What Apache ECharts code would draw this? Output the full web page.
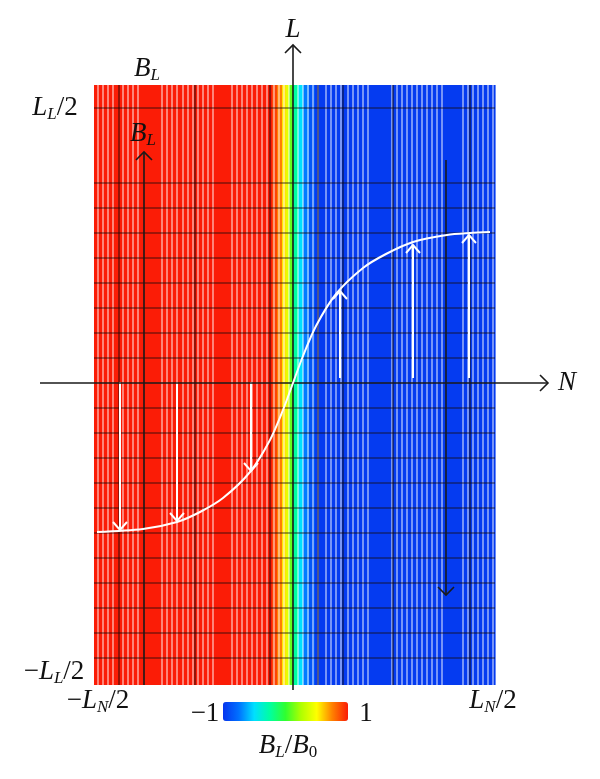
<!DOCTYPE html>
<html><head><meta charset="utf-8">
<script src="https://cdn.jsdelivr.net/npm/echarts@6/dist/echarts.min.js"></script>
<style>html,body{margin:0;padding:0;background:#fff}#c{width:600px;height:779px}</style>
</head><body><div id="c"></div>
<script>
// ---- axis extents (data units) ----
const X_MIN = -199, X_MAX = 202, Y_MIN = -302, Y_MAX = 298;

// ---- field B_L/B0 per column strip ----
const fieldEdges  = [-199, -21, -16, -11, -7, -4, 0, 5, 10, 16, 22, 202];
const fieldValues = [1, 0.9, 0.75, 0.55, 0.42, 0.1, -0.25, -0.5, -0.72, -0.86, -0.97];

// ---- mesh lines (white) ----
const meshX = [-195, -190, -185, -180, -170, -165, -160, -155, -131, -126, -121, -116, -110, -105, -100, -95, -90, -85, -80,
  -61, -56, -51, -46, -41, -36, -31, -26, -19, -14, -9, -4, 5, 10, 15, 20, 25, 33, 38, 43, 48, 55, 60, 65, 70, 75,
  99, 104, 109, 114, 119, 124, 129, 134, 139, 144, 149, 170, 175, 180, 185, 190, 195, 200];

// ---- black grid lines ----
const gridX = [-174, -98, -23, 25, 50, 100, 177];
const gridY = [275, 200, 175, 150, 125, 100, 75, 50, 25, -25, -50, -75, -100, -125, -150, -175, -200, -225, -250, -275];

// ---- white curve ----
const curveX = [-196, -150, -116, -93, -70, -43, -23, -10, 0, 10, 23, 43, 70, 93, 120, 154, 177, 197];
const curveY = [-149, -146, -139, -129, -115, -89, -57, -27, 0, 27, 57, 89, 115, 129, 141, 148, 150, 151];

// ---- white arrows ----
const arrowX    = [-173, -116, -42, 47, 120, 176];
const arrowFrom = [1, 1, 1, 5, 5, 5];
const arrowTo   = [-147, -138, -88, 92, 138, 148];

// ---- black axes with arrow heads ----
const axisStart = [[-253, 0], [0, -307], [-149, -302], [153, 223]];
const axisEnd   = [[255, 0], [0, 338], [-149, 231], [153, -212]];
const axisHead  = [1, 1, 1, 1];

const fieldData = fieldValues.map((v, i) => [fieldEdges[i], fieldEdges[i + 1], v]);
const curveData = curveX.map((x, i) => [x, curveY[i]]);
const arrowData = arrowX.map((x, i) => [x, arrowFrom[i], arrowTo[i]]);
const axisData = axisStart.map((s, i) => [s[0], s[1], axisEnd[i][0], axisEnd[i][1], axisHead[i]]);

function head(tip, from, len, hw) {
  const dx = tip[0] - from[0], dy = tip[1] - from[1];
  const L = Math.sqrt(dx * dx + dy * dy) || 1;
  const ux = dx / L, uy = dy / L, nx = -uy, ny = ux;
  return [[tip[0] - ux * len + nx * hw, tip[1] - uy * len + ny * hw], tip,
          [tip[0] - ux * len - nx * hw, tip[1] - uy * len - ny * hw]];
}

const SERIF = 'Liberation Serif';
const rich = {
  i: {fontFamily: SERIF, fontStyle: 'italic', fontSize: 27, lineHeight: 30, verticalAlign: 'middle', fill: '#111'},
  n: {fontFamily: SERIF, fontSize: 27, lineHeight: 30, verticalAlign: 'middle', fill: '#111'},
  s: {fontFamily: SERIF, fontStyle: 'italic', fontSize: 17, lineHeight: 15, verticalAlign: 'bottom', fill: '#111'},
  sn: {fontFamily: SERIF, fontSize: 17, lineHeight: 15, verticalAlign: 'bottom', fill: '#111'}
};
function label(text, x, y) {
  return {type: 'text', z: 100, style: {text: text, x: x, y: y, rich: rich, align: 'center', verticalAlign: 'middle', textAlign: 'center', textVerticalAlign: 'middle'}};
}

const chart = echarts.init(document.getElementById('c'), null, {renderer: 'canvas'});
chart.setOption({
  animation: false,
  backgroundColor: '#fff',
  grid: {left: 94, top: 85, width: 401, height: 600},
  xAxis: {type: 'value', min: X_MIN, max: X_MAX, show: false},
  yAxis: {type: 'value', min: Y_MIN, max: Y_MAX, show: false},
  visualMap: {
    type: 'continuous', min: -1, max: 1, dimension: 2, seriesIndex: 0,
    orient: 'horizontal', left: 223, top: 702, itemWidth: 19, itemHeight: 125,
    calculable: false, padding: 0, text: null, hoverLink: false,
    inRange: {color: ['#0634ee', '#0070ff', '#00e0ff', '#00ffa0', '#30ff30', '#b0ff00', '#ffff00', '#ff8000', '#fb1c06']}
  },
  series: [
    { type: 'custom', data: fieldData, encode: {x: [0, 1]}, silent: true,
      renderItem: function (p, api) {
        const a = api.coord([api.value(0), Y_MAX]);
        const b = api.coord([api.value(1), Y_MIN]);
        return {type: 'rect', shape: {x: a[0], y: a[1], width: b[0] - a[0] + 0.6, height: b[1] - a[1]},
                style: {fill: api.visual('color')}};
      }},
    { type: 'custom', data: meshX.map(x => [x]), encode: {x: 0}, silent: true,
      renderItem: function (p, api) {
        const a = api.coord([api.value(0), Y_MAX]);
        const b = api.coord([api.value(0), Y_MIN]);
        return {type: 'line', shape: {x1: a[0], y1: a[1], x2: b[0], y2: b[1]},
                style: {stroke: 'rgba(255,255,255,0.62)', lineWidth: 1.5}};
      }},
    { type: 'custom', data: gridX.map(x => [x]), encode: {x: 0}, silent: true,
      renderItem: function (p, api) {
        const a = api.coord([api.value(0), Y_MAX]);
        const b = api.coord([api.value(0), Y_MIN]);
        return {type: 'line', shape: {x1: a[0], y1: a[1], x2: b[0], y2: b[1]},
                style: {stroke: 'rgba(20,10,10,0.75)', lineWidth: 1.2}};
      }},
    { type: 'custom', data: gridY.map(y => [0, y]), encode: {y: 1}, silent: true,
      renderItem: function (p, api) {
        const a = api.coord([X_MIN, api.value(1)]);
        const b = api.coord([X_MAX, api.value(1)]);
        return {type: 'line', shape: {x1: a[0], y1: a[1], x2: b[0], y2: b[1]},
                style: {stroke: 'rgba(20,10,10,0.8)', lineWidth: 1.2}};
      }},
    { type: 'line', data: curveData, smooth: 0.3, showSymbol: false, silent: true,
      lineStyle: {color: '#fff', width: 2}},
    { type: 'custom', data: arrowData, encode: {x: 0, y: [1, 2]}, silent: true,
      renderItem: function (p, api) {
        const a = api.coord([api.value(0), api.value(1)]);
        const b = api.coord([api.value(0), api.value(2)]);
        return {type: 'group', children: [
          {type: 'line', shape: {x1: a[0], y1: a[1], x2: b[0], y2: b[1]}, style: {stroke: '#fff', lineWidth: 2}},
          {type: 'polyline', shape: {points: head(b, a, 8, 7)}, style: {stroke: '#fff', lineWidth: 2, fill: null}}
        ]};
      }},
    { type: 'custom', data: axisData, encode: {x: [0, 2], y: [1, 3]}, silent: true, clip: false,
      renderItem: function (p, api) {
        const a = api.coord([api.value(0), api.value(1)]);
        const b = api.coord([api.value(2), api.value(3)]);
        const ch = [{type: 'line', shape: {x1: a[0], y1: a[1], x2: b[0], y2: b[1]}, style: {stroke: '#1a1a1a', lineWidth: 1.6}}];
        if (api.value(4)) ch.push({type: 'polyline', shape: {points: head(b, a, 8, 8)}, style: {stroke: '#1a1a1a', lineWidth: 1.6, fill: null}});
        return {type: 'group', children: ch};
      }}
  ],
  graphic: [
    label('{i|L}', 293, 30),
    label('{i|B}{s|L}', 147, 69),
    label('{i|B}{s|L}', 143, 134),
    label('{i|L}{s|L}{n|/2}', 55, 108),
    label('{n|−}{i|L}{s|L}{n|/2}', 54, 672),
    label('{n|−}{i|L}{s|N}{n|/2}', 98, 701),
    label('{i|L}{s|N}{n|/2}', 493, 701),
    label('{i|N}', 567, 383),
    label('{n|−1}', 205, 714),
    label('{n|1}', 366, 714),
    label('{i|B}{s|L}{n|/}{i|B}{sn|0}', 288, 746)
  ]
});
</script></body></html>
